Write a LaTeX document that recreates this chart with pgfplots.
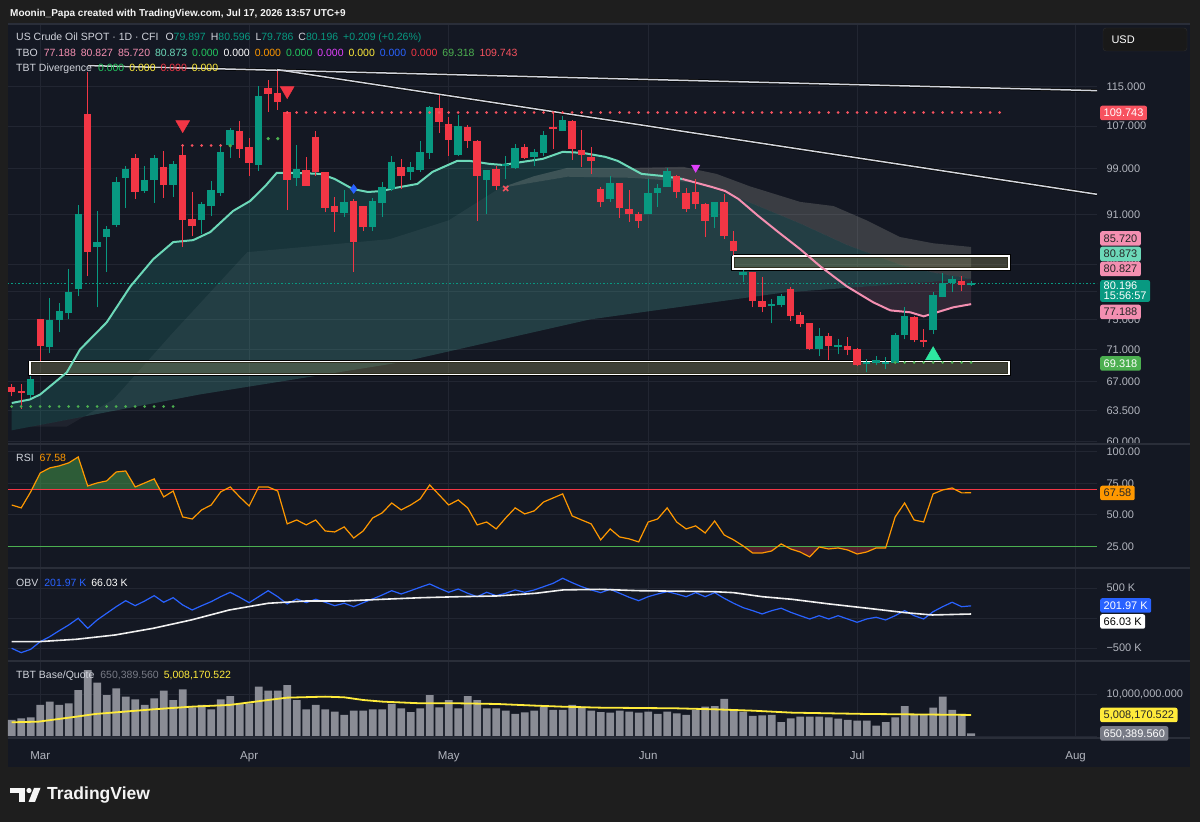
\documentclass[border=0pt]{standalone}
\usepackage{fontspec}
\setmainfont{Liberation Sans}
\usepackage{pgfplots}
\pgfplotsset{compat=1.18}
\definecolor{outerc}{HTML}{1E1E1E}
\definecolor{bgc}{HTML}{141823}
\definecolor{gridc}{HTML}{222632}
\definecolor{sepc}{HTML}{2A2E39}
\definecolor{txt}{HTML}{B2B5BE}
\definecolor{txtl}{HTML}{D1D4DC}
\definecolor{up}{HTML}{089981}
\definecolor{dn}{HTML}{F23645}
\definecolor{mint}{HTML}{6CD8B8}
\definecolor{pinkl}{HTML}{F48FB1}
\definecolor{tvred}{HTML}{F7525F}
\definecolor{tvgreen}{HTML}{4CAF50}
\definecolor{tvblue}{HTML}{2962FF}
\definecolor{tvorange}{HTML}{FF9800}
\definecolor{tvyellow}{HTML}{FFEB3B}
\definecolor{tvgray}{HTML}{787B86}
\definecolor{volbar}{HTML}{8A8C95}
\definecolor{magent}{HTML}{E040FB}
\definecolor{trig}{HTML}{2EE6A0}
\definecolor{legreen}{HTML}{22C55E}
\definecolor{tealf}{HTML}{2AA89A}
\definecolor{grayband}{HTML}{D2D1C6}
\definecolor{boxf}{HTML}{8A8A5A}
\newcommand\fs[1]{\fontsize{#1}{#1}\selectfont}
% candle: i, open, high, low, close, colour
\newcommand\cndl[6]{%
 \addplot[#6, line width=1.2pt, forget plot] coordinates {(#1,#4) (#1,#3)};
 \addplot[#6, line width=7.4pt, line cap=butt, forget plot] coordinates {(#1,#2) (#1,#5)};
}
\pgfplotsset{
 panel/.style={
  scale only axis, width=1089pt,
  anchor=south west,
  xmin=-0.39, xmax=114.25,
  axis line style={draw=none},
  tick style={draw=none},
  xtick={3,25,46,67,89,112},
  xticklabels={},
  xmajorgrids=true, ymajorgrids=true,
  grid style={draw=gridc, line width=0.9pt},
  yticklabel pos=right,
  yticklabel style={font=\fs{11}, text=txt, anchor=west, xshift=6pt},
  clip=true,
 }
}
\tikzset{plab/.style={anchor=west, rounded corners=2pt, inner xsep=3.5pt, inner ysep=0pt, minimum height=14.5pt, text height=8pt, text depth=0pt, font=\fs{11}}}
\begin{document}
\begin{tikzpicture}[x=1pt,y=1pt]
\fill[outerc] (0pt,0pt) rectangle (1200pt,822pt);
\fill[bgc] (8pt,55pt) rectangle (1190pt,798pt);

% ---------------- price panel (logarithmic price scale) ----------------
\begin{axis}[panel, at={(8pt,378pt)}, height=420pt,
  y coord trafo/.code={\pgfmathparse{ln(#1)}},
  y coord inv trafo/.code={\pgfmathparse{exp(#1)}},
  ymin=59.74, ymax=129.0,
  ytick={60,63.5,67,71,75,79,83,91,99,107,115},
  yticklabels={60.000,63.500,67.000,71.000,75.000,79.000,83.000,91.000,99.000,107.000,115.000}]
% TBO clouds (fast line / medium line, slow band)
\addplot[fill=tealf, fill opacity=0.2, draw=none] coordinates {(0,64.4) (1.9,64.81) (3,65.41) (5.8,68.11) (7.2,71.05) (10,74.66) (12.5,79.77) (14.9,83.82) (17,86.49) (19.1,86.80) (20.9,88.09) (23.3,91.56) (25.1,93.26) (26.7,95.86) (27.9,98.19) (29.8,98.19) (32.5,98.01) (34,97.10) (35.9,95.33) (37.5,94.81) (39,94.98) (40.3,95.50) (42.7,96.22) (44.3,98.37) (46.9,100.37) (48.2,100.37) (50.3,99.82) (51.7,99.63) (53.8,100.19) (55.9,100.74) (58,102.05) (60.1,101.86) (62.5,101.11) (63.8,100.37) (66.3,98.01) (68.5,97.64) (70.6,97.10) (72.3,96.4) (77.7,93.0) (83,89.5) (88,86.0) (93.5,83.0) (97,81.8) (101,80.87) (101,80.83) (81.4,78.89) (60.9,75.07) (40.9,69.37) (19.8,65.41) (0,61.25)};
\addplot[fill=white, fill opacity=0.05, draw=none] coordinates {(2,61.67) (5.8,61.68) (10.7,64.81) (17,73.3) (24.8,84.91) (39.8,86.96) (46,90.0) (51.4,95.5) (58.5,97.5) (65.4,97.3) (72.5,96.4) (77.7,93.0) (83,89.5) (88,86.0) (93.5,83.0) (97,81.8) (101,80.87) (101,80.83) (81.4,78.89) (60.9,75.07) (40.9,69.37) (19.8,65.41)};
\addplot[fill=grayband, fill opacity=0.2, draw=none] coordinates {(51.4,95.5) (55,97.6) (58.5,99.09) (65.4,99.09) (70.7,99.27) (74.2,98.0) (77.7,95.8) (83,93.1) (86.5,92.4) (90,90.0) (93.5,87.3) (97,86.3) (101,85.72) (101,80.87) (97,81.8) (93.5,83.0) (88,86.0) (83,89.5) (77.7,93.0) (72.5,96.4) (65.4,97.3) (58.5,97.5)};
\addplot[fill=pinkl, fill opacity=0.13, draw=none] coordinates {(88.2,79.56) (90.7,77.45) (92.5,76.32) (94.6,76.04) (96,75.49) (97.4,76.04) (99.1,76.74) (101,77.19) (101,80.83)};
% boxes
\addplot[black, line width=3.6pt] coordinates {(1.93,69.50) (105,69.50) (105,67.86) (1.93,67.86) (1.93,69.50)};
\addplot[white, line width=1.6pt, fill=boxf, fill opacity=0.35] coordinates {(1.93,69.50) (105,69.50) (105,67.86) (1.93,67.86) (1.93,69.50)};
\addplot[black, line width=3.6pt] coordinates {(75.9,84.29) (105,84.29) (105,82.30) (75.9,82.30) (75.9,84.29)};
\addplot[white, line width=1.6pt, fill=boxf, fill opacity=0.35] coordinates {(75.9,84.29) (105,84.29) (105,82.30) (75.9,82.30) (75.9,84.29)};
% current price line
\addplot[up, line width=0.8pt, dash pattern=on 1.5pt off 2pt] coordinates {(-0.39,80.196) (114.25,80.196)};
% trend lines
\addplot[black, line width=3pt] coordinates {(8.04,119.53) (114.25,114.16)};
\addplot[black, line width=3pt] coordinates {(27.93,118.65) (114.25,94.41)};
\addplot[txtl, line width=1.5pt] coordinates {(8.04,119.53) (114.25,114.16)};
\addplot[txtl, line width=1.5pt] coordinates {(27.93,118.65) (114.25,94.41)};
% TBO fast line
\addplot[mint, line width=2pt] coordinates {(0,64.4) (1.9,64.81) (3,65.41) (5.8,68.11) (7.2,71.05) (10,74.66) (12.5,79.77) (14.9,83.82) (17,86.49) (19.1,86.80) (20.9,88.09) (23.3,91.56) (25.1,93.26) (26.7,95.86) (27.9,98.19) (29.8,98.19) (32.5,98.01) (34,97.10) (35.9,95.33) (37.5,94.81) (39,94.98) (40.3,95.50) (42.7,96.22) (44.3,98.37) (46.9,100.37) (48.2,100.37) (50.3,99.82) (51.7,99.63) (53.8,100.19) (55.9,100.74) (58,102.05) (60.1,101.86) (62.5,101.11) (63.8,100.37) (66.3,98.01) (68.5,97.64) (70.6,97.10)};
\addplot[pinkl, line width=2pt] coordinates {(70.6,97.10) (73.7,95.68) (75.1,94.98) (76.5,93.60) (78.6,90.72) (80.7,88.09) (83,85.38) (85.1,82.75) (87.9,79.77) (90.7,77.45) (92.5,76.32) (94.6,76.04) (96,75.49) (97.4,76.04) (99.1,76.74) (101,77.19)};
% candles  {i}{open}{high}{low}{close}{colour}
\cndl{0}{66.26}{66.62}{65.17}{65.65}{dn}
\cndl{1}{65.77}{66.74}{63.75}{65.53}{dn}
\cndl{2}{65.29}{67.61}{64.93}{67.24}{up}
\cndl{3}{75.07}{75.07}{69.50}{71.44}{dn}
\cndl{4}{71.31}{78.02}{70.53}{74.93}{up}
\cndl{5}{74.93}{77.31}{73.30}{76.18}{up}
\cndl{6}{75.90}{82.30}{75.07}{78.89}{up}
\cndl{7}{79.33}{92.57}{78.31}{91.05}{up}
\cndl{8}{109.43}{118.22}{81.25}{84.91}{dn}
\cndl{9}{85.70}{91.56}{76.74}{86.49}{up}
\cndl{10}{87.28}{89.07}{81.85}{88.58}{up}
\cndl{11}{89.24}{97.46}{88.91}{96.57}{up}
\cndl{12}{97.28}{99.45}{92.06}{98.91}{up}
\cndl{13}{100.93}{101.67}{93.60}{94.81}{dn}
\cndl{14}{94.98}{99.45}{94.64}{96.92}{up}
\cndl{15}{96.92}{101.49}{92.92}{100.93}{up}
\cndl{16}{99.27}{102.24}{93.77}{96.04}{dn}
\cndl{17}{96.04}{100.37}{93.94}{99.82}{up}
\cndl{18}{101.49}{103.37}{85.70}{90.06}{dn}
\cndl{19}{90.22}{94.81}{87.44}{89.07}{dn}
\cndl{20}{90.06}{93.09}{87.77}{92.74}{up}
\cndl{21}{92.40}{96.75}{90.72}{95.15}{up}
\cndl{22}{94.64}{103.56}{94.12}{102.05}{up}
\cndl{23}{103.37}{106.65}{100.93}{106.26}{up}
\cndl{24}{106.06}{108.03}{100.93}{102.61}{dn}
\cndl{25}{102.99}{104.70}{97.64}{99.99}{dn}
\cndl{26}{99.63}{115.21}{98.55}{113.11}{up}
\cndl{27}{114.79}{116.49}{109.84}{113.53}{dn}
\cndl{28}{113.74}{118.43}{110.24}{111.88}{dn}
\cndl{29}{109.84}{110.04}{91.72}{96.92}{dn}
\cndl{30}{97.28}{103.37}{95.86}{98.91}{up}
\cndl{31}{98.73}{101.11}{95.86}{95.86}{dn}
\cndl{32}{104.89}{106.06}{97.64}{98.37}{dn}
\cndl{33}{98.37}{98.37}{91.39}{92.06}{dn}
\cndl{34}{92.40}{93.94}{88.09}{91.39}{dn}
\cndl{35}{91.22}{95.15}{90.55}{93.09}{up}
\cndl{36}{93.26}{93.60}{81.85}{86.49}{dn}
\cndl{37}{92.40}{92.40}{88.26}{88.91}{dn}
\cndl{38}{88.91}{93.77}{88.26}{93.26}{up}
\cndl{39}{92.92}{96.57}{90.55}{95.68}{up}
\cndl{40}{95.33}{101.30}{94.98}{100.19}{up}
\cndl{41}{99.27}{100.74}{95.33}{97.64}{dn}
\cndl{42}{98.37}{100.19}{96.92}{99.27}{up}
\cndl{43}{98.73}{104.13}{98.37}{102.05}{up}
\cndl{44}{101.86}{111.05}{100.74}{110.85}{up}
\cndl{45}{110.64}{113.32}{105.67}{107.83}{dn}
\cndl{46}{107.43}{108.83}{101.30}{104.32}{dn}
\cndl{47}{101.49}{109.23}{101.30}{107.04}{up}
\cndl{48}{106.84}{107.24}{102.80}{104.13}{dn}
\cndl{49}{104.13}{104.32}{89.89}{97.64}{dn}
\cndl{50}{96.92}{98.73}{91.05}{98.73}{up}
\cndl{51}{98.91}{99.45}{95.15}{95.86}{dn}
\cndl{52}{99.45}{101.30}{97.10}{99.82}{up}
\cndl{53}{99.09}{103.56}{98.91}{102.80}{up}
\cndl{54}{102.99}{103.56}{100.74}{100.93}{dn}
\cndl{55}{101.11}{102.61}{99.45}{102.05}{up}
\cndl{56}{101.86}{106.06}{101.30}{105.28}{up}
\cndl{57}{106.84}{109.84}{102.61}{106.45}{dn}
\cndl{58}{106.06}{109.03}{106.06}{108.23}{up}
\cndl{59}{108.03}{108.23}{100.56}{102.61}{dn}
\cndl{60}{102.42}{106.26}{99.27}{101.49}{dn}
\cndl{61}{101.11}{102.99}{98.01}{100.37}{dn}
\cndl{62}{95.33}{95.68}{92.23}{93.09}{dn}
\cndl{63}{93.60}{97.64}{93.09}{96.39}{up}
\cndl{64}{96.39}{96.39}{90.39}{92.06}{dn}
\cndl{65}{91.89}{95.15}{89.73}{91.05}{dn}
\cndl{66}{91.05}{91.39}{88.74}{89.89}{dn}
\cndl{67}{91.05}{97.10}{91.05}{94.64}{up}
\cndl{68}{94.64}{96.22}{92.23}{95.50}{up}
\cndl{69}{95.68}{99.09}{95.68}{98.55}{up}
\cndl{70}{97.64}{97.82}{93.77}{94.81}{dn}
\cndl{71}{94.64}{95.50}{91.39}{91.89}{dn}
\cndl{72}{94.81}{97.10}{91.89}{92.74}{dn}
\cndl{73}{92.74}{92.92}{87.28}{89.89}{dn}
\cndl{74}{90.55}{93.09}{88.74}{93.09}{up}
\cndl{75}{93.09}{94.46}{86.96}{87.44}{dn}
\cndl{76}{86.65}{88.26}{84.45}{85.07}{dn}
\cndl{77}{81.40}{82.15}{80.36}{81.85}{up}
\cndl{78}{81.85}{81.85}{76.74}{77.60}{dn}
\cndl{79}{77.60}{81.10}{76.04}{76.74}{dn}
\cndl{80}{76.88}{77.88}{74.52}{77.17}{up}
\cndl{81}{77.03}{78.60}{76.74}{78.31}{up}
\cndl{82}{79.33}{79.63}{74.79}{75.49}{dn}
\cndl{83}{75.63}{76.04}{73.97}{74.39}{dn}
\cndl{84}{74.52}{74.52}{70.92}{71.05}{dn}
\cndl{85}{71.05}{73.84}{70.14}{72.76}{up}
\cndl{86}{72.76}{73.16}{69.62}{71.44}{dn}
\cndl{87}{71.40}{72.36}{70.40}{71.60}{up}
\cndl{88}{71.44}{72.62}{70.27}{70.92}{dn}
\cndl{89}{71.05}{71.18}{68.86}{68.98}{dn}
\cndl{90}{69.11}{69.75}{68.11}{69.37}{up}
\cndl{91}{69.24}{70.14}{68.98}{69.62}{up}
\cndl{92}{69.20}{70.01}{68.48}{69.40}{up}
\cndl{93}{69.24}{73.16}{69.11}{72.89}{up}
\cndl{94}{72.89}{76.74}{72.36}{75.49}{up}
\cndl{95}{75.35}{75.49}{71.97}{72.23}{dn}
\cndl{96}{72.23}{73.70}{71.31}{71.97}{dn}
\cndl{97}{73.57}{78.89}{73.03}{78.46}{up}
\cndl{98}{78.17}{81.70}{78.17}{80.21}{up}
\cndl{99}{80.21}{81.25}{78.89}{80.80}{up}
\cndl{100}{80.50}{81.25}{79.04}{79.91}{dn}
\cndl{101}{79.897}{80.596}{79.786}{80.196}{up}
% dotted levels
\addplot[tvred, line width=3pt, line cap=round, dash pattern=on 0.01pt off 9.489pt] coordinates {(29,109.743) (104,109.743)};
\addplot[tvred, line width=3pt, line cap=round, dash pattern=on 0.01pt off 9.489pt] coordinates {(18,103.18) (22,103.18)};
\addplot[only marks, mark=*, mark size=1.5pt, tvgreen] coordinates {(23,103.18) (27,104.55) (28,104.55)};
\addplot[tvgreen, line width=3pt, line cap=round, dash pattern=on 0.01pt off 9.489pt] coordinates {(0,63.99) (17,63.99)};
\addplot[tvgreen, line width=3pt, line cap=round, dash pattern=on 0.01pt off 9.489pt] coordinates {(93,69.318) (101,69.318)};
% signal markers
\addplot[only marks, mark=triangle*, mark size=8pt, mark options={rotate=180, fill=dn, draw=dn}] coordinates {(18,107.26) (29,114.16)};
\addplot[only marks, mark=triangle*, mark size=4.8pt, mark options={rotate=180, fill=magent, draw=magent}] coordinates {(72,99.15)};
\addplot[only marks, mark=triangle*, mark size=8.8pt, mark options={fill=trig, draw=trig}] coordinates {(97,70.27)};
\addplot[only marks, mark=diamond*, mark size=4.5pt, mark options={fill=tvblue, draw=tvblue}] coordinates {(36,95.33)};
\addplot[only marks, mark=x, mark size=3.6pt, mark options={draw=tvred, line width=1.6pt}] coordinates {(52,95.42)};
\end{axis}

% ---------------- RSI panel ----------------
\begin{axis}[panel, at={(8pt,254pt)}, height=124pt,
  ymin=7.9, ymax=106.3, ytick={25,50,75,100}, yticklabels={25.00,50.00,75.00,100.00}]
\addplot[fill=tvgreen, fill opacity=0.45, draw=none] coordinates {(2.1,70) (3,83.3)(4,87.3)(5,88.9)(6,91.3)(7,96.0)(8,73.0)(9,75.4)(10,77.0)(11,84.1)(12,84.9)(13,72.2)(14,75.4)(15,78.6) (15.66,70)};
\addplot[fill=dn, fill opacity=0.3, draw=none] coordinates {(77.07,25) (78,19.8)(79,19.8)(80,21.4) (80.64,25)};
\addplot[fill=dn, fill opacity=0.3, draw=none] coordinates {(81.5,25) (82,23.0)(83,20.6)(84,16.7)(85,24.6)(86,23.0)(87,23.8)(88,22.2)(89,19.0)(90,20.6)(91,23.8)(92,23.8) (92.05,25)};
\addplot[dn, line width=1pt] coordinates {(-0.39,70) (114.25,70)};
\addplot[tvgreen, line width=1pt] coordinates {(-0.39,25) (114.25,25)};
\addplot[tvorange, line width=1.2pt] coordinates {(0,57.9)(1,55.6)(2,68.3)(3,83.3)(4,87.3)(5,88.9)(6,91.3)(7,96.0)(8,73.0)(9,75.4)(10,77.0)(11,84.1)(12,84.9)(13,72.2)(14,75.4)(15,78.6)(16,64.3)(17,69.0)(18,48.4)(19,46.8)(20,54.0)(21,57.9)(22,68.3)(23,72.2)(24,64.3)(25,57.1)(26,72.2)(27,72.2)(28,69.0)(29,42.9)(30,46.0)(31,42.1)(32,46.0)(33,37.3)(34,36.5)(35,40.5)(36,31.7)(37,37.3)(38,47.6)(39,51.6)(40,59.5)(41,54.0)(42,57.9)(43,62.7)(44,73.8)(45,65.9)(46,57.9)(47,61.9)(48,55.6)(49,42.1)(50,44.4)(51,38.9)(52,47.6)(53,55.6)(54,50.8)(55,53.2)(56,60.3)(57,63.5)(58,66.7)(59,49.2)(60,46.0)(61,42.9)(62,30.2)(63,38.9)(64,32.5)(65,31.0)(66,28.6)(67,44.4)(68,46.8)(69,55.6)(70,44.4)(71,38.9)(72,41.3)(73,35.7)(74,45.2)(75,34.1)(76,30.2)(77,25.4)(78,19.8)(79,19.8)(80,21.4)(81,27.0)(82,23.0)(83,20.6)(84,16.7)(85,24.6)(86,23.0)(87,23.8)(88,22.2)(89,19.0)(90,20.6)(91,23.8)(92,23.8)(93,48.4)(94,59.5)(95,46.0)(96,44.4)(97,66.7)(98,69.8)(99,71.4)(100,67.5)(101,67.58)};
\end{axis}

% ---------------- OBV panel ----------------
\begin{axis}[panel, at={(8pt,161pt)}, height=93pt,
  ymin=-717, ymax=833, ytick={-500,0,500}, yticklabels={−500 K,,500 K}]
\addplot[tvblue, line width=1.2pt] coordinates {(0,-505)(1,-578)(2,-522)(3,-395)(4,-312)(5,-212)(6,-117)(7,-5)(8,-172)(9,-33)(10,78)(11,188)(12,288)(13,205)(14,283)(15,372)(16,262)(17,338)(18,217)(19,133)(20,205)(21,272)(22,355)(23,428)(24,345)(25,255)(26,355)(27,455)(28,355)(29,233)(30,317)(31,255)(32,312)(33,262)(34,205)(35,245)(36,188)(37,255)(38,317)(39,383)(40,455)(41,400)(42,455)(43,512)(44,567)(45,495)(46,428)(47,483)(48,412)(49,355)(50,428)(51,372)(52,412)(53,467)(54,428)(55,467)(56,522)(57,578)(58,662)(59,588)(60,522)(61,467)(62,422)(63,478)(64,412)(65,345)(66,288)(67,355)(68,400)(69,438)(70,400)(71,355)(72,422)(73,355)(74,422)(75,328)(76,245)(77,172)(78,122)(79,67)(80,122)(81,162)(82,95)(83,38)(84,-17)(85,38)(86,-17)(87,38)(88,-17)(89,-72)(90,-17)(91,12)(92,-33)(93,38)(94,122)(95,38)(96,-17)(97,105)(98,188)(99,262)(100,188)(101,202)};
\addplot[white!88!gray, line width=1.6pt] coordinates {(0,-395)(2.8,-395)(6.8,-355)(10.9,-283)(14.9,-172)(18.9,-33)(22.9,133)(27,245)(31,283)(35,283)(39.1,312)(43.1,338)(47.1,355)(51.1,367)(55.2,412)(58,467)(61.9,478)(65.9,455)(74,438)(76,422)(79,355)(82.1,312)(86.1,233)(90.1,162)(94.1,88)(96.9,50)(101,66)};
\end{axis}

% ---------------- Volume panel ----------------
\begin{axis}[panel, at={(8pt,84pt)}, height=77pt,
  ymin=-0.48, ymax=17.86, ytick={0,10}, yticklabels={,{10,000,000.000}},
  xticklabels={Mar,Apr,May,Jun,Jul,Aug},
  xticklabel style={font=\fs{11.5}, text=txt, yshift=-10pt}]
\addplot[ybar, bar width=7.8pt, fill=volbar, draw=none] coordinates {(0,3.81)(1,4.21)(2,4.44)(3,7.38)(4,8.17)(5,7.38)(6,7.78)(7,10.95)(8,15.71)(9,12.70)(10,9.76)(11,11.35)(12,9.37)(13,8.73)(14,7.38)(15,8.97)(16,10.79)(17,8.57)(18,11.11)(19,6.83)(20,7.38)(21,6.35)(22,8.73)(23,9.52)(24,7.78)(25,7.78)(26,11.75)(27,10.79)(28,10.79)(29,12.14)(30,8.57)(31,6.35)(32,7.38)(33,6.35)(34,5.79)(35,5.0)(36,6.03)(37,6.03)(38,6.35)(39,6.35)(40,7.62)(41,6.59)(42,5.71)(43,6.59)(44,9.76)(45,6.83)(46,8.57)(47,6.59)(48,9.52)(49,8.57)(50,6.59)(51,6.59)(52,6.03)(53,5.24)(54,5.63)(55,6.03)(56,7.0)(57,6.19)(58,6.19)(59,7.38)(60,7.0)(61,6.03)(62,5.7)(63,5.56)(64,6.03)(65,5.79)(66,5.56)(67,5.79)(68,5.24)(69,5.79)(70,5.4)(71,5.0)(72,6.19)(73,7.0)(74,7.14)(75,8.81)(76,6.19)(77,5.79)(78,4.76)(79,4.92)(80,5.0)(81,3.33)(82,4.21)(83,4.6)(84,4.6)(85,4.6)(86,4.44)(87,4.13)(88,3.81)(89,3.65)(90,3.65)(91,2.46)(92,3.33)(93,4.44)(94,7.14)(95,5.0)(96,5.0)(97,6.75)(98,9.37)(99,6.19)(100,5.24)(101,0.65)};
\addplot[tvyellow, line width=1.8pt] coordinates {(0,3.26)(2.8,3.41)(6.8,4.6)(8.8,5.24)(14.9,6.35)(18.9,6.98)(22.9,7.38)(27,8.57)(29,9.13)(33,9.37)(35,9.21)(37,8.57)(39.1,8.17)(43.1,7.78)(47.1,7.78)(51.1,7.62)(55.2,7.22)(58,6.98)(61.9,6.75)(69.9,6.59)(74,6.35)(78,6.03)(82.1,5.56)(86.1,5.4)(90.1,5.24)(94.1,5.16)(101,5.01)};
\end{axis}

% separators
\foreach \yy in {798,378,254,161,84} \draw[sepc, line width=1.2pt] (8pt,\yy pt) -- (1190pt,\yy pt);

% header
\node[anchor=west, font=\fs{10}\bfseries, text=white!92!gray, inner sep=0pt] at (10pt,808pt) {Moonin\_Papa created with TradingView.com, Jul 17, 2026 13:57 UTC+9};

% legends
\node[anchor=west, font=\fs{10.5}, inner sep=0pt] at (16pt,784pt) {\textcolor{txtl}{US Crude Oil SPOT · 1D · CFI}\hspace{7pt}\textcolor{txtl}{O}\textcolor{up}{79.897}\hspace{5pt}\textcolor{txtl}{H}\textcolor{up}{80.596}\hspace{5pt}\textcolor{txtl}{L}\textcolor{up}{79.786}\hspace{5pt}\textcolor{txtl}{C}\textcolor{up}{80.196}\hspace{5pt}\textcolor{up}{+0.209 (+0.26\%)}};
\node[anchor=west, font=\fs{10.5}, inner sep=0pt] at (16pt,769pt) {\textcolor{txtl}{TBO}\hspace{6pt}\textcolor{pinkl}{77.188}\hspace{5pt}\textcolor{pinkl}{80.827}\hspace{5pt}\textcolor{pinkl}{85.720}\hspace{5pt}\textcolor{mint}{80.873}\hspace{5pt}\textcolor{legreen}{0.000}\hspace{5pt}\textcolor{white}{0.000}\hspace{5pt}\textcolor{tvorange}{0.000}\hspace{5pt}\textcolor{legreen}{0.000}\hspace{5pt}\textcolor{magent}{0.000}\hspace{5pt}\textcolor{tvyellow}{0.000}\hspace{5pt}\textcolor{tvblue}{0.000}\hspace{5pt}\textcolor{dn}{0.000}\hspace{5pt}\textcolor{tvgreen}{69.318}\hspace{5pt}\textcolor{tvred}{109.743}};
\node[anchor=west, font=\fs{10.5}, inner sep=0pt] at (16pt,753pt) {\textcolor{txtl}{TBT Divergence}\hspace{6pt}\textcolor{legreen}{0.000}\hspace{5pt}\textcolor{tvyellow}{0.000}\hspace{5pt}\textcolor{dn}{0.000}\hspace{5pt}\textcolor{tvyellow}{0.000}};
\node[anchor=west, font=\fs{10.5}, inner sep=0pt] at (16pt,364pt) {\textcolor{txtl}{RSI}\hspace{6pt}\textcolor{tvorange}{67.58}};
\node[anchor=west, font=\fs{10.5}, inner sep=0pt] at (16pt,239pt) {\textcolor{txtl}{OBV}\hspace{6pt}\textcolor{tvblue}{201.97 K}\hspace{5pt}\textcolor{white}{66.03 K}};
\node[anchor=west, font=\fs{10.5}, inner sep=0pt] at (16pt,146pt) {\textcolor{txtl}{TBT Base/Quote}\hspace{6pt}\textcolor{tvgray}{650,389.560}\hspace{5pt}\textcolor{tvyellow}{5,008,170.522}};

% right scale labels
\draw[fill=black!90, draw=white!18!black, rounded corners=3pt] (1103pt,794pt) rectangle (1187pt,771pt);
\node[anchor=west, font=\fs{11}, text=white] at (1108pt,782.5pt) {USD};
\node[plab, fill=tvred, text=white] at (1100pt,709pt) {109.743};
\node[plab, fill=pinkl, text=black!85] at (1100pt,583.5pt) {85.720};
\node[plab, fill=mint, text=black!85] at (1100pt,568pt) {80.873};
\node[plab, fill=pinkl, text=black!85] at (1100pt,553pt) {80.827};
\node[anchor=west, rounded corners=2pt, fill=up, text=white, font=\fs{11}, inner xsep=3.5pt, inner ysep=2pt, align=left] at (1100pt,531pt) {80.196\\[-1pt]15:56:57};
\node[plab, fill=pinkl, text=black!85] at (1100pt,510pt) {77.188};
\node[plab, fill=tvgreen, text=white] at (1100pt,458.5pt) {69.318};
\node[plab, fill=tvorange, text=black!85] at (1100pt,329pt) {67.58};
\node[plab, fill=tvblue, text=white] at (1100pt,216.5pt) {201.97 K};
\node[plab, fill=white, text=black] at (1100pt,200.5pt) {66.03 K};
\node[plab, fill=tvyellow, text=black!85] at (1100pt,107pt) {5,008,170.522};
\node[plab, fill=tvgray, text=white] at (1100pt,88.5pt) {650,389.560};

% TradingView logo
\fill[white!92!gray] (10pt,34pt) rectangle (25pt,29pt);
\fill[white!92!gray] (18.5pt,34pt) rectangle (25pt,20pt);
\fill[white!92!gray] (29pt,31.5pt) circle (2.6pt);
\fill[white!92!gray] (34pt,34pt) -- (40.5pt,34pt) -- (35pt,20pt) -- (28.5pt,20pt) -- cycle;
\node[anchor=west, font=\fs{17.5}\bfseries, text=white!92!gray, inner sep=0pt] at (47pt,27pt) {TradingView};

\pgfresetboundingbox
\path[use as bounding box] (0pt,0pt) rectangle (1200pt,822pt);
\end{tikzpicture}
\end{document}
